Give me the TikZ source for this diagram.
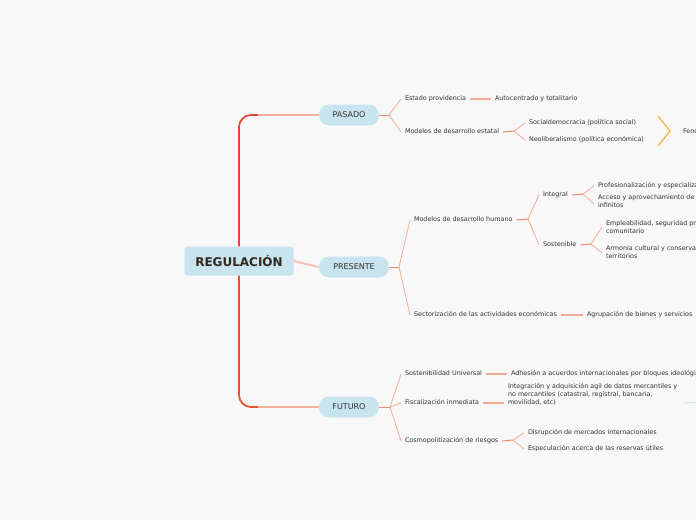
\documentclass[tikz,border=0pt]{standalone}
\usepackage{fontspec}
\setmainfont{DejaVu Sans}
\definecolor{bg}{HTML}{F8F8F8}
\definecolor{boxfill}{HTML}{C8E5EF}
\definecolor{txt}{HTML}{333333}
\definecolor{roottxt}{HTML}{33261C}
\definecolor{redup}{HTML}{E8432F}
\definecolor{reddown}{HTML}{E8532C}
\definecolor{lightmain}{HTML}{F5B09C}
\definecolor{stubc}{HTML}{F4876A}
\definecolor{forkc}{HTML}{F5AA94}
\definecolor{bracec}{HTML}{F5A623}
\definecolor{faintc}{HTML}{D3E3E8}
\tikzset{
  rootbox/.style={fill=boxfill, rounded corners=3pt, minimum width=109pt, minimum height=29pt, inner sep=0pt, text=roottxt, font=\fontsize{12}{14}\selectfont\bfseries},
  topic/.style={fill=boxfill, rounded corners=10pt, minimum height=21pt, inner sep=0pt, text=txt, font=\fontsize{8}{9}\selectfont},
  leaf/.style={anchor=west, inner sep=0pt, outer xsep=4pt, outer ysep=0pt, text=txt, font=\fontsize{6.4}{8}\selectfont, text height=4.7pt, text depth=1.4pt, align=left, yshift=-1pt},
  stub/.style={draw=stubc, line width=1pt},
  fork/.style={draw=forkc, line width=0.8pt},
  link/.style={draw=forkc, line width=1.1pt},
}
\begin{document}
\begin{tikzpicture}[x=1pt,y=-1pt]
\useasboundingbox (0,0) rectangle (696,520);
\fill[bg] (0,0) rectangle (696,520);
\clip (0,0) rectangle (696,520);

% main nodes
\node[rootbox] (root) at (239,261) {REGULACIÓN};
\node[topic, minimum width=60pt] (pas) at (349,115) {PASADO};
\node[topic, minimum width=70pt] (pre) at (354,267) {PRESENTE};
\node[topic, minimum width=60pt] (fut) at (349,407) {FUTURO};

% main connectors
\coordinate (pk) at (258,115);
\coordinate (fk) at (258,407);
\draw[redup, line width=1.7pt, rounded corners=12pt] (root.north) |- (pk);
\draw[lightmain, line width=1.1pt] (pk) -- (pas.west);
\draw[reddown, line width=1.7pt, rounded corners=12pt] (root.south) |- (fk);
\draw[lightmain, line width=1.1pt] (fk) -- (fut.west);
\draw[lightmain!80!white, line width=2pt] (root.east) -- (pre.west);

% ---------- PASADO ----------
\node[leaf] (ep) at (401,98) {Estado providencia};
\node[leaf] (mde) at (401,131) {Modelos de desarrollo estatal};
\coordinate (fpas) at (389,115);
\draw[stub] (pas.east) -- (fpas);
\draw[fork] (fpas) -- (ep.west);
\draw[fork] (fpas) -- (mde.west);

\node[leaf] (auto) at (491,98) {Autocentrado y totalitario};
\draw[link] (ep.east) -- (auto.west);

\node[leaf] (soc) at (525,122) {Socialdemocracia (política social)};
\node[leaf] (neo) at (525,139) {Neoliberalismo (política económica)};
\coordinate (fmde) at (514,131);
\draw[stub] (mde.east) -- (fmde);
\draw[fork] (fmde) -- (soc.west);
\draw[fork] (fmde) -- (neo.west);

\coordinate (b1) at (658,116);
\coordinate (b2) at (670,131);
\coordinate (b3) at (658,146);
\draw[bracec, line width=1pt] (b1) -- (b2) -- (b3);
\node[leaf] (fen) at (679,131) {Fenómeno};

% ---------- PRESENTE ----------
\node[leaf] (mdh) at (410,219) {Modelos de desarrollo humano};
\node[leaf] (sec) at (410,314) {Sectorización de las actividades económicas};
\coordinate (fpre) at (399,267);
\draw[stub] (pre.east) -- (fpre);
\draw[fork] (fpre) -- (mdh.west);
\draw[fork] (fpre) -- (sec.west);

\node[leaf] (agr) at (583,314) {Agrupación de bienes y servicios};
\draw[link] (sec.east) -- (agr.west);

\node[leaf] (int) at (539,194) {Integral};
\node[leaf] (sos) at (539,244) {Sostenible};
\coordinate (fmdh) at (528,219);
\draw[stub] (mdh.east) -- (fmdh);
\draw[fork] (fmdh) -- (int.west);
\draw[fork] (fmdh) -- (sos.west);

\node[leaf] (pro) at (594,185) {Profesionalización y especialización};
\node[leaf] (acc) at (594,205) {Acceso y aprovechamiento de recursos\\infinitos};
\coordinate (fint) at (583,194);
\draw[stub] (int.east) -- (fint);
\draw[fork] (fint) -- (pro.west);
\draw[fork] (fint) -- ([yshift=2pt]acc.west);

\node[leaf] (emp) at (602,231) {Empleabilidad, seguridad productiva\\comunitario};
\node[leaf] (arm) at (602,256) {Armonia cultural y conservación de\\territorios};
\coordinate (fsos) at (591,244);
\draw[stub] (sos.east) -- (fsos);
\draw[fork] (fsos) -- ([yshift=5pt]emp.west);
\draw[fork] (fsos) -- ([yshift=4pt]arm.west);

% ---------- FUTURO ----------
\node[leaf] (su) at (401,373) {Sostenibilidad Universal};
\node[leaf] (fi) at (401,402) {Fiscalización inmediata};
\node[leaf] (cr) at (401,440) {Cosmopolitización de riesgos};
\coordinate (ffut) at (390,407);
\draw[stub] (fut.east) -- (ffut);
\draw[fork] (ffut) -- (su.west);
\draw[fork] (ffut) -- (fi.west);
\draw[fork] (ffut) -- (cr.west);

\node[leaf] (adh) at (507,373) {Adhesión a acuerdos internacionales por bloques ideológicos};
\draw[link] (su.east) -- (adh.west);

\node[leaf] (ia) at (504,402) {Integración y adquisición agil de datos mercantiles y\\no mercantiles (catastral, registral, bancaria,\\movilidad, etc)};
\draw[link] (fi.east) -- (ia.west);
\coordinate (edge) at (700,402);
\draw[faintc, line width=1pt] ([xshift=4pt]ia.east) -- (edge);

\node[leaf] (dis) at (524,432) {Disrupción de mercados internacionales};
\node[leaf] (esp) at (524,448) {Especulación acerca de las reservas útiles};
\coordinate (fcr) at (513,440);
\draw[stub] (cr.east) -- (fcr);
\draw[fork] (fcr) -- (dis.west);
\draw[fork] (fcr) -- (esp.west);
\end{tikzpicture}
\end{document}
